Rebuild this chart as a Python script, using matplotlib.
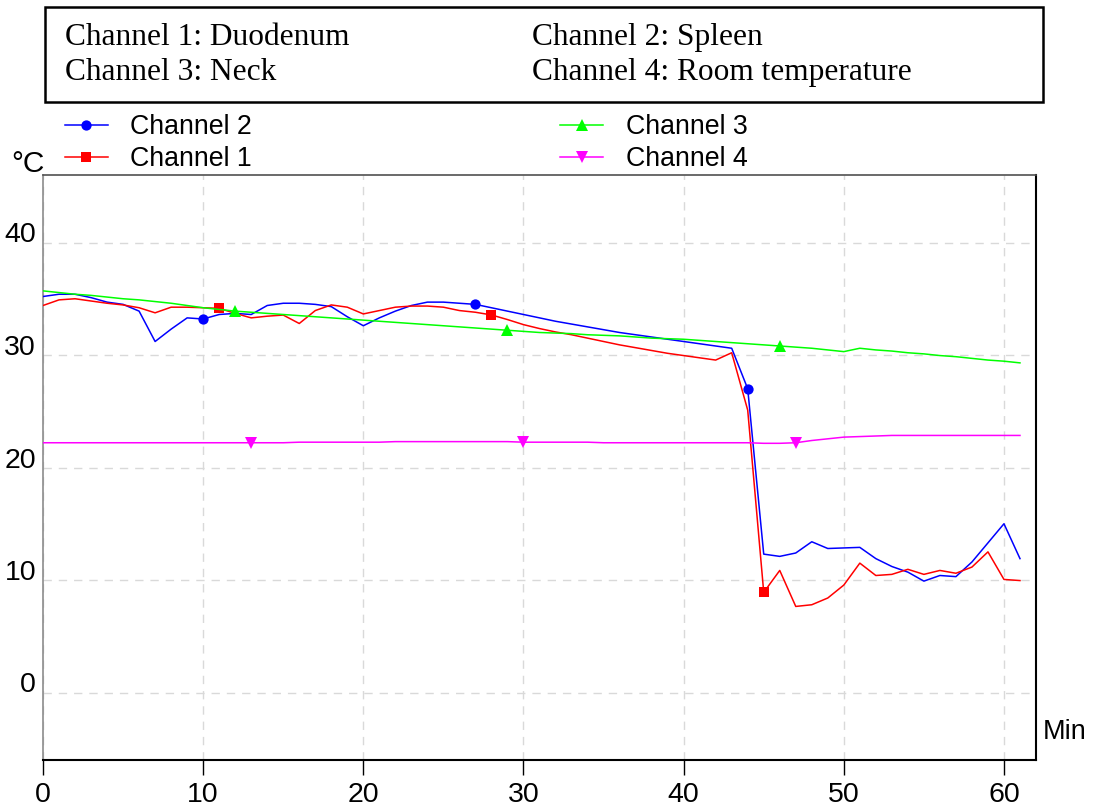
import matplotlib
matplotlib.use("Agg")
import matplotlib.pyplot as plt
from matplotlib.patches import Rectangle

# Time axis (minutes) and temperatures (°C) per channel
minutes = list(range(0, 62))

channel2_spleen = [
    35.2, 35.4, 35.4, 35.1, 34.7, 34.5, 33.9, 31.2, 32.3, 33.3,
    33.2, 33.6, 33.7, 33.6, 34.4, 34.6, 34.6, 34.5, 34.3, 33.4,
    32.6, 33.3, 33.9, 34.4, 34.7, 34.7, 34.6, 34.5, 34.2, 33.9,
    33.6, 33.3, 33.0, 32.75, 32.5, 32.25, 32.0, 31.8, 31.6, 31.4,
    31.2, 31.0, 30.8, 30.6, 27.0, 12.3, 12.1, 12.4, 13.4, 12.8,
    12.85, 12.9, 11.9, 11.2, 10.7, 9.9, 10.4, 10.3, 11.6, 13.3,
    15.0, 11.9,
]
channel1_duodenum = [
    34.4, 34.9, 35.0, 34.8, 34.6, 34.45, 34.2, 33.75, 34.25, 34.25,
    34.2, 34.15, 33.7, 33.3, 33.45, 33.55, 32.8, 33.95, 34.45, 34.25,
    33.65, 33.95, 34.25, 34.35, 34.35, 34.25, 33.95, 33.8, 33.56, 33.15,
    32.7, 32.35, 32.05, 31.8, 31.5, 31.2, 30.9, 30.65, 30.4, 30.15,
    29.95, 29.75, 29.55, 30.2, 25.1, 8.9, 10.85, 7.65, 7.8, 8.4,
    9.55, 11.5, 10.4, 10.5, 10.95, 10.5, 10.85, 10.6, 11.15, 12.5,
    10.05, 9.95,
]
channel3_neck = [
    35.7, 35.55, 35.4, 35.3, 35.15, 35.0, 34.9, 34.75, 34.6, 34.4,
    34.2, 34.05, 33.9, 33.8, 33.7, 33.6, 33.5, 33.4, 33.3, 33.2,
    33.1, 33.0, 32.9, 32.8, 32.7, 32.6, 32.5, 32.4, 32.3, 32.2,
    32.1, 32.0, 31.95, 31.9, 31.8, 31.75, 31.7, 31.6, 31.5, 31.45,
    31.4, 31.3, 31.2, 31.1, 31.0, 30.9, 30.8, 30.7, 30.6, 30.45,
    30.3, 30.6, 30.45, 30.35, 30.2, 30.1, 29.95, 29.85, 29.7, 29.55,
    29.45, 29.3,
]
channel4_room = [
    22.2, 22.2, 22.2, 22.2, 22.2, 22.2, 22.2, 22.2, 22.2, 22.2,
    22.2, 22.2, 22.2, 22.2, 22.2, 22.2, 22.25, 22.25, 22.25, 22.25,
    22.25, 22.25, 22.3, 22.3, 22.3, 22.3, 22.3, 22.3, 22.3, 22.3,
    22.25, 22.25, 22.25, 22.25, 22.25, 22.2, 22.2, 22.2, 22.2, 22.2,
    22.2, 22.2, 22.2, 22.2, 22.2, 22.15, 22.15, 22.2, 22.4, 22.55,
    22.7, 22.75, 22.8, 22.85, 22.85, 22.85, 22.85, 22.85, 22.85, 22.85,
    22.85, 22.85,
]

x_ticks = [0, 10, 20, 30, 40, 50, 60]
y_ticks = [0, 10, 20, 30, 40]

box_lines = [
    ("Channel 1: Duodenum", "Channel 2: Spleen"),
    ("Channel 3: Neck", "Channel 4: Room temperature"),
]

W, H = 1100, 809
fig = plt.figure(figsize=(W / 100, H / 100), dpi=100)
sans = ["Liberation Sans", "DejaVu Sans"]
serif = ["Liberation Serif", "DejaVu Serif"]


def fx(px):
    return px / W


def fy(py):
    return 1 - py / H


ax = fig.add_axes([fx(43), fy(760), fx(1036 - 43), (760 - 175) / H])
ax.set_xlim(0, 62)
ax.set_ylim(-6, 46)

series = [
    (channel2_spleen, "Channel 2", "#0000ff", "o", 7.4, [10, 27, 44]),
    (channel1_duodenum, "Channel 1", "#ff0000", "s", 7.2, [11, 28, 45]),
    (channel3_neck, "Channel 3", "#00ff00", "^", 8.6, [12, 29, 46]),
    (channel4_room, "Channel 4", "#ff00ff", "v", 8.6, [13, 30, 47]),
]
handles = {}
for values, label, color, marker, ms, marks in series:
    (ln,) = ax.plot(minutes, values, color=color, lw=1.1, marker=marker,
                    markersize=ms, markevery=marks, markeredgewidth=0,
                    label=label, zorder=3)
    handles[label] = ln

# grid
ax.set_xticks(x_ticks)
ax.set_yticks(y_ticks)
ax.grid(True, color="#d9d9d9", linestyle=(0, (6, 5)), linewidth=1.0, zorder=0)
ax.set_axisbelow(True)

ax.spines["bottom"].set_color("black")
ax.spines["bottom"].set_linewidth(1.5)
ax.spines["right"].set_color("black")
ax.spines["right"].set_linewidth(1.5)
ax.spines["top"].set_color("#505050")
ax.spines["top"].set_linewidth(1.2)
ax.spines["left"].set_color("#8c8c8c")
ax.spines["left"].set_linewidth(1.2)

ax.tick_params(axis="x", direction="out", length=11, width=1.0, color="black",
               pad=5, labelsize=20.5)
ax.tick_params(axis="y", length=0, pad=5, labelsize=20.5)
for lab in ax.get_xticklabels() + ax.get_yticklabels():
    lab.set_fontfamily(sans)
for lab in ax.get_yticklabels():
    lab.set_verticalalignment("baseline")

fig.text(fx(45), fy(172), "°C", ha="right", va="baseline", fontsize=21.5,
         family=sans)
fig.text(fx(1043), fy(739), "Min", ha="left", va="baseline", fontsize=19.5,
         family=sans)

# legend in two columns
order = ["Channel 2", "Channel 1", "Channel 3", "Channel 4"]
fig.legend([handles[k] for k in order], order, ncol=2, loc="upper left",
           bbox_to_anchor=(fx(65), fy(114)), frameon=False,
           prop={"family": sans, "size": 19.3}, handlelength=1.6,
           handletextpad=0.84, columnspacing=11.5, labelspacing=0.24,
           borderpad=0, borderaxespad=0, markerscale=1.0)

# description box
fig.add_artist(Rectangle((fx(45), fy(102)), fx(1043 - 45), (102 - 7) / H,
                         transform=fig.transFigure, fill=False,
                         edgecolor="black", linewidth=1.8))
row_baselines = [45, 80]
col_starts = [65, 532]
for r, pair in enumerate(box_lines):
    for c, txt in enumerate(pair):
        fig.text(fx(col_starts[c]), fy(row_baselines[r]), txt, ha="left",
                 va="baseline", fontsize=22.6, family=serif)

fig.savefig("out.png", dpi=100)
